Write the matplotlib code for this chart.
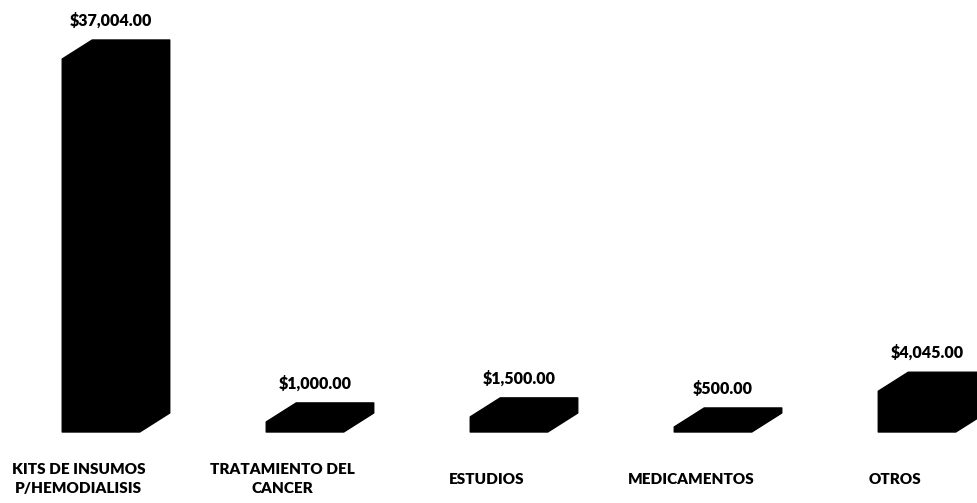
import matplotlib
matplotlib.use("Agg")
import matplotlib.pyplot as plt
from matplotlib.patches import Polygon

# Data
categories = ["KITS DE INSUMOS\nP/HEMODIALISIS", "TRATAMIENTO DEL\nCANCER",
              "ESTUDIOS", "MEDICAMENTOS", "OTROS"]
amounts = [37004.00, 1000.00, 1500.00, 500.00, 4045.00]

# 3D-look parameters (front width, depth offset)
bar_w = 0.38
depth_x = 0.147
depth_y = 1885

plt.rcParams['font.family'] = ['Lato', 'DejaVu Sans']

fig = plt.figure(figsize=(9.77, 5.03), dpi=100)
ax = fig.add_axes([0, 0, 1, 1])
ax.set_xlim(-0.495, 4.294)
ax.set_ylim(-7044, 42857)
ax.axis('off')

for i, (cat, val) in enumerate(zip(categories, amounts)):
    x0 = i - bar_w / 2
    x1 = i + bar_w / 2
    pts = [(x0, 0), (x0, val), (x0 + depth_x, val + depth_y),
           (x1 + depth_x, val + depth_y), (x1 + depth_x, depth_y), (x1, 0)]
    ax.add_patch(Polygon(pts, closed=True, facecolor='black',
                         edgecolor='black', linewidth=1, joinstyle='round'))
    ax.annotate(f"${val:,.2f}", xy=(i + depth_x / 3, val + depth_y),
                xytext=(0, 14), textcoords='offset points',
                ha='center', va='center', fontsize=11.5, fontweight='heavy')
    ax.annotate(cat, xy=(i, 0), xytext=(-16, -34), textcoords='offset points',
                ha='center', va='center', fontsize=11, fontweight='heavy',
                linespacing=1.5)

fig.savefig("out.png", dpi=100, facecolor='white')
